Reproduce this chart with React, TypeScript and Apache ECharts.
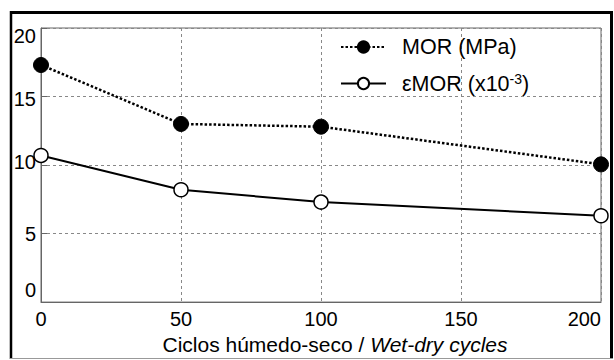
import React, { useEffect, useRef } from "react";
import * as echarts from "echarts";

const cycles = [0, 50, 100, 200];
const morValues = [17.3, 13.0, 12.8, 10.05];
const epsMorValues = [10.7, 8.2, 7.3, 6.3];
const seriesNames = ["MOR (MPa)", "εMOR (x10-3)"];
const xTicks = { min: 0, max: 200, interval: 50 };
const yTicks = { min: 0, max: 20, interval: 5 };

const FONT = "'Liberation Sans', Arial, sans-serif";

export default function App() {
  const ref = useRef<HTMLDivElement>(null);
  useEffect(() => {
    document.body.style.margin = "0";
    const chart = echarts.init(ref.current!, null, { renderer: "svg" });
    const lbl = { fontSize: 20, fontFamily: FONT, color: "#000" };
    chart.setOption({
      animation: false,
      backgroundColor: "#fff",
      textStyle: { fontFamily: FONT },
      grid: {
        left: 41,
        right: 13,
        top: 28,
        bottom: 50,
        show: true,
        borderColor: "#666",
        borderWidth: 1,
        backgroundColor: "transparent",
      },
      legend: {
        orient: "vertical",
        left: 340,
        top: 36,
        padding: 0,
        itemWidth: 45,
        itemHeight: 14,
        itemGap: 14,
        data: seriesNames,
        formatter: (name: string) =>
          name === seriesNames[1]
            ? "{a|εMOR (x10}{s|-3}{a|)}"
            : "{a|" + name + "}",
        textStyle: {
          color: "#000",
          fontSize: 21.5,
          fontFamily: FONT,
          padding: [0, 0, 0, 11],
          rich: {
            a: { fontSize: 21.5, fontFamily: FONT, color: "#000", lineHeight: 24 },
            s: {
              fontSize: 14,
              fontFamily: FONT,
              color: "#000",
              padding: [0, 0, 9, 0],
            },
          },
        },
      },
      xAxis: {
        type: "value",
        min: xTicks.min,
        max: xTicks.max,
        interval: xTicks.interval,
        name: "{n|Ciclos húmedo-seco / }{i|Wet-dry cycles}",
        nameLocation: "middle",
        nameGap: 23,
        nameTextStyle: {
          padding: [0, 0, 0, 28],
          rich: {
            n: { fontSize: 21, fontFamily: FONT, color: "#000" },
            i: { fontSize: 21, fontFamily: FONT, color: "#000", fontStyle: "italic" },
          },
        },
        axisLine: { show: true, lineStyle: { color: "#666", width: 1 } },
        axisTick: { show: false },
        axisLabel: { ...lbl, margin: 7, alignMaxLabel: "right" },
        splitLine: {
          show: true,
          lineStyle: { color: "#888", width: 1, type: [3, 3] },
        },
      },
      yAxis: {
        type: "value",
        min: yTicks.min,
        max: yTicks.max,
        interval: yTicks.interval,
        axisLine: { show: true, lineStyle: { color: "#666", width: 1 } },
        axisTick: { show: true, inside: true, length: 6, lineStyle: { color: "#666" } },
        axisLabel: {
          ...lbl,
          margin: 5,
          formatter: (v: number) => "{y" + v + "|" + v + "}",
          rich: {
            y0: { ...lbl, padding: [0, 0, 25, 0] },
            y5: { ...lbl },
            y10: { ...lbl, padding: [0, 0, 6, 0] },
            y15: { ...lbl, padding: [4, 0, 0, 0] },
            y20: { ...lbl, padding: [16, 0, 0, 0] },
          },
        },
        splitLine: {
          show: true,
          lineStyle: { color: "#888", width: 1, type: [3, 3] },
        },
      },
      series: [
        {
          name: seriesNames[0],
          type: "line",
          data: cycles.map((c, i) => [c, morValues[i]]),
          symbol: "circle",
          symbolSize: 15,
          itemStyle: { color: "#000", borderColor: "#000", borderWidth: 1 },
          lineStyle: { color: "#000", width: 2.5, type: [2.5, 2] },
          z: 3,
        },
        {
          name: seriesNames[1],
          type: "line",
          data: cycles.map((c, i) => [c, epsMorValues[i]]),
          symbol: "circle",
          symbolSize: 14,
          itemStyle: { color: "#fff", borderColor: "#000", borderWidth: 1.5 },
          lineStyle: { color: "#000", width: 2 },
          z: 3,
        },
      ],
      graphic: [
        { type: "line", shape: { x1: 11, y1: 12.5, x2: 611.5, y2: 12.5 }, style: { stroke: "#000", lineWidth: 3 } },
        { type: "line", shape: { x1: 11, y1: 11, x2: 11, y2: 359 }, style: { stroke: "#000", lineWidth: 2.5 } },
        { type: "line", shape: { x1: 611.5, y1: 11, x2: 611.5, y2: 359 }, style: { stroke: "#000", lineWidth: 3 } },
        { type: "line", shape: { x1: 10, y1: 358.5, x2: 613, y2: 358.5 }, style: { stroke: "#999", lineWidth: 1 } },
      ],
    });
    return () => chart.dispose();
  }, []);
  return <div ref={ref} style={{ width: 614, height: 360 }} />;
}
